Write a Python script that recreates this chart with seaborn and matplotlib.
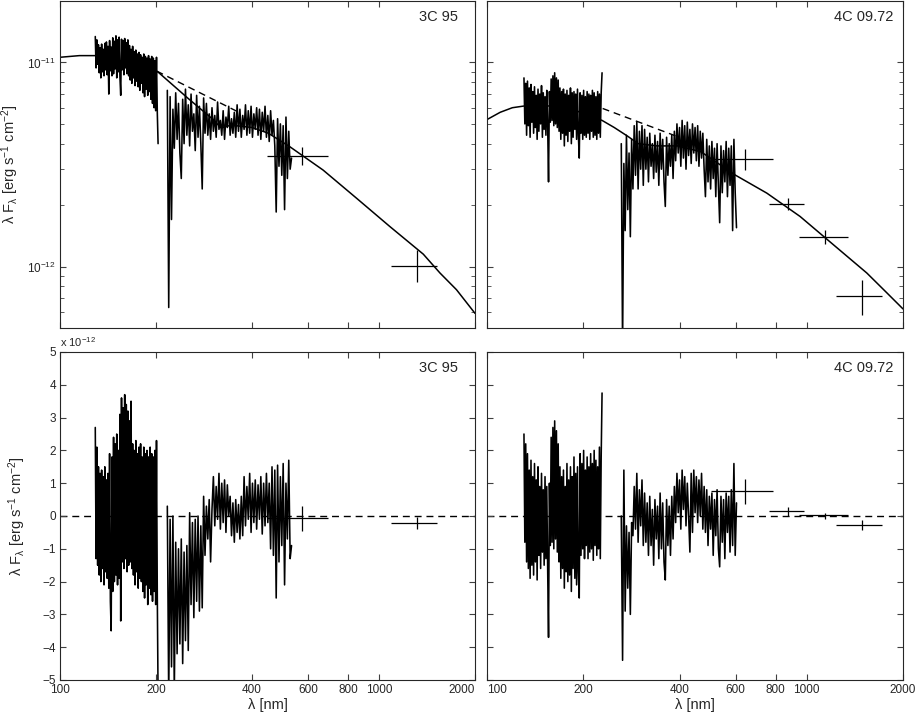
import numpy as np
import pandas as pd
import matplotlib
matplotlib.use("Agg")
import matplotlib.pyplot as plt
import seaborn as sns
from matplotlib.ticker import FixedLocator, NullLocator, NullFormatter, LogLocator, FixedFormatter

# ---------------- data (flux in units of 1e-12 erg s^-1 cm^-2) ----------------
# 3C 95 : UV spectrum 129-203 nm, optical spectrum 217-532 nm
uv_range_3c95 = (129, 203)
uv_3c95 = [
    13.4, 9.4, 12.9, 9.8, 12.2, 8.9, 11.8, 8.4, 12.3, 9.0,
    11.6, 8.6, 12.4, 9.2, 12.6, 8.7, 12.0, 7.0, 12.8, 9.1,
    11.9, 8.6, 13.2, 8.8, 12.7, 9.3, 13.5, 8.4, 12.9, 9.0,
    13.3, 8.5, 6.9, 13.0, 9.2, 12.8, 8.7, 13.1, 9.4, 12.5,
    8.8, 12.9, 8.6, 12.1, 8.2, 11.6, 7.9, 12.0, 8.4, 11.3,
    7.7, 11.5, 8.1, 11.0, 7.6, 11.2, 7.3, 10.9, 7.9, 10.6,
    7.1, 11.0, 6.8, 10.7, 7.4, 10.5, 6.9, 10.8, 7.2, 10.4,
    6.6, 10.7, 6.3, 10.5, 6.0, 10.2, 5.8, 10.6, 5.7, 4.0]
opt_range_3c95 = (217, 532)
opt_3c95 = [
    7.3, 0.63, 6.8, 1.7, 5.9, 3.8, 7.1, 4.2, 6.3, 3.6,
    2.7, 6.6, 4.0, 7.4, 4.4, 6.2, 3.9, 7.0, 4.6, 5.6,
    3.7, 6.9, 4.3, 6.1, 4.0, 2.4, 6.7, 4.5, 6.3, 4.4,
    5.6, 4.2, 6.0, 4.6, 5.5, 4.3, 6.4, 4.7, 5.2, 4.4,
    5.8, 4.2, 5.4, 4.8, 6.1, 4.4, 5.3, 4.5, 5.7, 4.3,
    6.2, 4.6, 5.9, 4.3, 5.5, 4.7, 6.2, 4.4, 5.8, 4.5,
    6.1, 4.3, 5.6, 4.7, 6.0, 4.4, 5.9, 4.2, 5.7, 4.6,
    6.1, 4.3, 5.5, 4.1, 5.8, 4.4, 5.2, 3.9, 1.85, 5.3,
    3.1, 5.0, 2.8, 4.9, 1.9, 5.4, 2.7, 4.6, 3.0, 3.4]
res_uv_3c95 = [
    2.7, -1.3, 2.1, -1.5, 1.5, -1.8, 1.3, -2.0, 1.4, -1.6,
    1.2, -2.1, 1.5, -1.7, 1.1, -1.9, 1.3, -2.2, 1.9, -2.6,
    -3.5, 1.8, -2.3, 2.4, -2.0, 2.2, -1.8, 2.5, -2.1, 2.0,
    -1.9, 3.1, -3.2, 3.6, -1.4, 3.3, -1.6, 3.7, -1.3, 3.4,
    -1.7, 3.2, -1.5, 2.9, -1.4, 3.5, -1.6, 2.2, -1.8, 2.0,
    -2.1, 2.3, -1.7, 1.9, -2.2, 2.1, -1.9, 2.2, -2.0, 1.8,
    -2.3, 2.1, -2.5, 1.9, -2.1, 2.0, -2.7, 1.8, -2.2, 2.1,
    -2.4, 1.9, -2.6, 1.8, -2.3, 2.0, -2.7, 2.3, -2.4, -5.5]
res_opt_3c95 = [
    0.3, -5.6, -0.1, -4.6, 0.0, -5.4, -0.8, -4.2, -1.0, -3.9,
    -0.7, -4.5, -1.1, -3.8, -0.9, -4.1, 0.1, -2.7, -0.2, -3.1,
    -0.1, -2.6, 0.0, -2.9, -0.3, -2.8, 0.6, -1.2, 0.3, -0.7,
    0.5, -1.4, 0.2, 1.2, -0.3, 0.9, -0.1, 1.3, -0.4, 1.0,
    -0.2, 1.1, -0.5, 0.95, 0.0, 0.6, -0.6, 0.4, -0.8, 0.5,
    -0.5, 0.35, -0.7, 0.6, -0.6, 1.2, -0.3, 0.9, -0.1, 1.3,
    -0.5, 1.0, -0.2, 1.1, -0.4, 0.95, -0.1, 1.2, -0.55, 1.0,
    -0.3, 1.3, -0.2, 1.0, -1.0, 1.5, -1.2, 1.4, -2.5, 1.55,
    -1.4, 1.2, -0.9, 1.6, -2.1, 1.0, -0.7, 1.7, -1.3, -0.9]
model_lam_3c95 = [100, 115, 130, 150, 170, 203, 252, 300, 320, 344, 400, 450,
                  526, 668, 851, 1082, 1377, 1553, 1750, 2000]
model_3c95 = [10.6, 10.8, 10.8, 10.3, 9.8, 8.97, 6.67, 5.3, 4.78, 4.93, 4.8, 4.5,
              3.86, 2.97, 2.16, 1.57, 1.15, 0.93, 0.77, 0.59]
dash_lam_3c95 = [201, 362]
dash_3c95 = [9.07, 5.72]
phot_lam_3c95 = [572, 1312]
phot_lo_3c95 = [444, 1093]
phot_hi_3c95 = [692, 1525]
phot_3c95 = [3.49, 1.01]
phot_flo_3c95 = [3.13, 0.84]
phot_fhi_3c95 = [3.86, 1.2]
pres_3c95 = [-0.05, -0.2]
pres_lo_3c95 = [-0.46, -0.4]
pres_hi_3c95 = [0.31, -0.02]

# 4C 09.72 : UV spectrum 130-229 nm, optical spectrum 263-603 nm
uv_range_4c = (130.5, 229)
uv_4c = [
    8.4, 5.0, 7.9, 4.4, 8.1, 4.9, 7.5, 4.3, 7.8, 5.1,
    7.2, 4.5, 7.6, 4.8, 6.9, 4.2, 7.4, 4.6, 7.0, 5.0,
    7.7, 4.3, 7.1, 4.7, 6.8, 4.4, 7.3, 4.9, 2.6, 7.2,
    5.1, 8.3, 5.2, 8.6, 4.9, 8.9, 5.0, 8.4, 4.8, 8.2,
    4.6, 7.5, 4.2, 7.2, 4.5, 7.4, 3.9, 7.0, 4.4, 7.3,
    4.1, 6.9, 4.6, 7.5, 4.0, 7.1, 4.3, 7.2, 4.7, 7.0,
    4.2, 7.4, 4.4, 3.4, 7.1, 4.5, 6.9, 4.2, 7.3, 4.4,
    6.8, 4.3, 7.2, 4.5, 7.0, 4.2, 6.9, 4.6, 7.3, 4.3,
    7.1, 4.4, 6.8, 4.2, 7.2, 4.5, 7.0, 4.3, 7.1, 8.9]
opt_range_4c = (263, 603)
opt_4c = [
    4.0, 0.4, 3.2, 1.5, 4.4, 1.9, 3.6, 1.4, 4.2, 2.4,
    4.9, 2.8, 5.1, 2.4, 4.6, 3.0, 4.9, 2.5, 4.7, 3.0,
    4.3, 2.6, 4.5, 3.1, 4.0, 2.7, 4.4, 2.9, 4.1, 2.5,
    4.5, 3.0, 4.2, 2.6, 1.97, 4.3, 2.8, 4.0, 3.1, 4.4,
    2.7, 4.6, 3.3, 5.0, 3.6, 4.8, 3.1, 5.2, 3.4, 4.9,
    3.0, 5.1, 3.5, 4.7, 3.2, 5.0, 3.6, 4.8, 3.3, 4.9,
    3.1, 4.6, 3.4, 4.5, 3.0, 2.2, 4.2, 2.6, 3.9, 2.4,
    4.1, 2.7, 3.8, 2.2, 4.0, 2.5, 1.64, 3.9, 2.3, 3.7,
    2.6, 4.1, 2.2, 3.8, 2.5, 3.9, 1.5, 4.2, 2.3, 1.55]
res_uv_4c = [
    2.5, -0.8, 2.2, -1.4, 1.9, -1.6, 1.4, -1.9, 1.7, -1.5,
    1.2, -1.8, 1.6, -1.4, 1.1, -1.95, 1.5, -1.2, 0.9, -1.6,
    1.3, -1.1, 0.8, -1.5, 1.2, -1.3, 0.9, -1.6, -3.7, 1.0,
    -0.9, 2.4, -0.8, 2.7, -1.0, 2.9, -0.7, 2.6, -1.1, 2.2,
    -1.4, 1.5, -1.9, 1.2, -1.6, 1.4, -2.2, 0.9, -1.7, 1.6,
    -2.0, 1.1, -1.8, 1.5, -2.3, 1.2, -1.6, 1.8, -1.9, 1.3,
    -2.1, 1.5, -1.7, -2.5, 1.9, -1.2, 1.6, -1.0, 2.0, -1.3,
    1.4, -0.9, 1.8, -1.3, 1.5, -1.1, 1.9, -1.0, 1.6, -1.35,
    2.0, -0.9, 1.7, -1.2, 1.5, -1.0, 2.1, -1.3, 1.8, 3.75]
res_opt_4c = [
    0.0, -4.4, 1.4, -2.9, -0.3, -2.2, -0.5, -3.0, -0.2, -0.6,
    0.9, -0.4, 1.3, -0.8, 0.8, -0.3, 1.1, -0.9, 0.7, -0.8,
    0.4, -1.2, 0.6, -0.9, 0.2, -1.5, 0.5, -0.7, 0.3, -1.3,
    0.7, -1.0, 0.4, -1.4, -1.95, 0.5, -0.9, 0.3, -1.2, 0.6,
    -0.7, 0.9, -0.2, 1.3, 0.1, 1.1, -0.4, 1.4, 0.2, 1.2,
    -0.3, 1.0, 0.0, -1.1, 1.3, -0.5, 1.4, 0.1, 1.2, -0.2,
    1.1, 0.0, 1.3, -0.4, 0.9, -0.5, 0.8, -0.9, 0.6, -0.4,
    0.7, -1.2, 0.5, -0.6, 0.8, -1.0, -1.55, 0.6, -0.8, 0.5,
    -1.3, 0.7, -0.5, 0.6, -1.1, 0.8, -0.9, 1.6, -1.2, 0.4]
model_lam_4c = [100, 110, 120, 129, 140, 160, 190, 229, 250, 276, 297, 340, 395,
                467, 597, 750, 953, 1211, 1541, 1778, 2000]
model_4c = [5.25, 5.7, 6.0, 6.1, 6.2, 6.1, 5.8, 5.2, 4.8, 4.34, 4.0, 3.9, 3.9,
            3.65, 2.81, 2.29, 1.76, 1.28, 0.93, 0.745, 0.62]
dash_lam_4c = [230, 390]
dash_4c = [5.95, 4.36]
phot_lam_4c = [643, 873, 1144, 1486]
phot_lo_4c = [502, 760, 944, 1233]
phot_hi_4c = [784, 983, 1347, 1720]
phot_4c = [3.36, 2.02, 1.40, 0.72]
phot_flo_4c = [2.97, 1.89, 1.29, 0.58]
phot_fhi_4c = [3.77, 2.16, 1.51, 0.86]
pres_4c = [0.76, 0.14, 0.02, -0.27]
pres_lo_4c = [0.36, 0.0, -0.1, -0.42]
pres_hi_4c = [1.13, 0.27, 0.1, -0.13]

xticks = [100, 200, 400, 600, 800, 1000, 2000]
xticklabels = ["100", "200", "400", "600", "800", "1000", "2000"]
ylabel = "λ F$_{λ}$ [erg s$^{-1}$ cm$^{-2}$]"

# ---------------- style ----------------
sns.set_style("ticks")
plt.rcParams["font.family"] = ["Liberation Sans", "DejaVu Sans"]
plt.rcParams["mathtext.fontset"] = "custom"
plt.rcParams["mathtext.rm"] = "Liberation Sans"
plt.rcParams["mathtext.it"] = "Liberation Sans:italic"
plt.rcParams["mathtext.default"] = "regular"
plt.rcParams["axes.linewidth"] = 0.8
plt.rcParams["axes.edgecolor"] = "0.15"

fig = plt.figure(figsize=(9.16, 7.16), dpi=100)
L, R = [60 / 916, 415 / 916], [487 / 916, 416 / 916]
top_b, top_h = 1 - 328 / 716, 327 / 716
bot_b, bot_h = 1 - 680 / 716, 328 / 716
ax_tl = fig.add_axes([L[0], top_b, L[1], top_h])
ax_tr = fig.add_axes([R[0], top_b, R[1], top_h])
ax_bl = fig.add_axes([L[0], bot_b, L[1], bot_h])
ax_br = fig.add_axes([R[0], bot_b, R[1], bot_h])

LW = 1.15


def spectrum(ax, rng, vals, scale):
    lam = np.geomspace(rng[0], rng[1], len(vals))
    df = pd.DataFrame({"lam": lam, "f": np.array(vals) * scale})
    sns.lineplot(data=df, x="lam", y="f", ax=ax, color="black", lw=LW,
                 estimator=None, sort=False)


def photometry(ax, lam, val, lo, hi, flo, fhi, scale):
    lam = np.array(lam, float)
    val = np.array(val) * scale
    xerr = [lam - np.array(lo), np.array(hi) - lam]
    yerr = [val - np.array(flo) * scale, np.array(fhi) * scale - val]
    ax.errorbar(lam, val, xerr=xerr, yerr=yerr, fmt="none", ecolor="black",
                elinewidth=0.9, capsize=0)


def style(ax, top, left, name):
    ax.set_xscale("log")
    ax.set_xlim(100, 2000)
    ax.xaxis.set_major_locator(FixedLocator(xticks))
    ax.xaxis.set_minor_locator(NullLocator())
    if top:
        ax.xaxis.set_major_formatter(NullFormatter())
        ax.set_xlabel("")
    else:
        ax.xaxis.set_major_formatter(FixedFormatter(xticklabels))
        ax.set_xlabel("λ [nm]", fontsize=10.5, labelpad=1)
    ax.tick_params(which="both", direction="in", top=True, right=True,
                   labelsize=8.5, color="0.25", pad=3)
    ax.tick_params(which="major", length=4)
    ax.tick_params(which="minor", length=3)
    if left:
        ax.set_ylabel(ylabel, fontsize=10.5)
    else:
        ax.set_ylabel("")
        ax.yaxis.set_major_formatter(NullFormatter())
        ax.yaxis.set_minor_formatter(NullFormatter())
    for s in ax.spines.values():
        s.set_visible(True)
    ax.text(0.96 if left else 0.976, 0.95, name, transform=ax.transAxes,
            ha="right", va="center", fontsize=10.5)


# ---------------- top panels (SED, log-log) ----------------
E = 1e-12
for ax, uvr, uv, opr, op, ml, m, dl, d, ph in [
    (ax_tl, uv_range_3c95, uv_3c95, opt_range_3c95, opt_3c95, model_lam_3c95, model_3c95,
     dash_lam_3c95, dash_3c95,
     (phot_lam_3c95, phot_3c95, phot_lo_3c95, phot_hi_3c95, phot_flo_3c95, phot_fhi_3c95)),
    (ax_tr, uv_range_4c, uv_4c, opt_range_4c, opt_4c, model_lam_4c, model_4c,
     dash_lam_4c, dash_4c,
     (phot_lam_4c, phot_4c, phot_lo_4c, phot_hi_4c, phot_flo_4c, phot_fhi_4c)),
]:
    ax.set_xscale("log")
    ax.set_yscale("log")
    spectrum(ax, uvr, uv, E)
    spectrum(ax, opr, op, E)
    sns.lineplot(x=np.array(ml), y=np.array(m) * E, ax=ax, color="black", lw=1.1,
                 estimator=None, sort=False)
    sns.lineplot(x=np.array(dl), y=np.array(d) * E, ax=ax, color="black", lw=1.0,
                 estimator=None, sort=False, linestyle=(0, (5, 3.5)))
    photometry(ax, ph[0], ph[1], ph[2], ph[3], ph[4], ph[5], E)
    ax.set_ylim(5e-13, 2e-11)
    ax.yaxis.set_major_locator(LogLocator(base=10, numticks=10))
    ax.yaxis.set_minor_locator(LogLocator(base=10, subs=np.arange(2, 10), numticks=10))
    ax.yaxis.set_minor_formatter(NullFormatter())

style(ax_tl, True, True, "3C 95")
style(ax_tr, True, False, "4C 09.72")
ax_tl.yaxis.set_label_coords(-0.095, 0.5)

# ---------------- bottom panels (residuals, linear) ----------------
for ax, uvr, uv, opr, op, ph in [
    (ax_bl, uv_range_3c95, res_uv_3c95, opt_range_3c95, res_opt_3c95,
     (phot_lam_3c95, pres_3c95, phot_lo_3c95, phot_hi_3c95, pres_lo_3c95, pres_hi_3c95)),
    (ax_br, uv_range_4c, res_uv_4c, opt_range_4c, res_opt_4c,
     (phot_lam_4c, pres_4c, phot_lo_4c, phot_hi_4c, pres_lo_4c, pres_hi_4c)),
]:
    ax.set_xscale("log")
    ax.axhline(0, color="black", lw=1.0, linestyle=(0, (5, 3.5)), zorder=0)
    spectrum(ax, uvr, uv, 1.0)
    spectrum(ax, opr, op, 1.0)
    photometry(ax, ph[0], ph[1], ph[2], ph[3], ph[4], ph[5], 1.0)
    ax.set_ylim(-5, 5)
    ax.yaxis.set_major_locator(FixedLocator(range(-5, 6)))

style(ax_bl, False, True, "3C 95")
style(ax_br, False, False, "4C 09.72")
ax_bl.yaxis.set_label_coords(-0.076, 0.5)
ax_bl.text(0.0, 1.008, "x 10$^{-12}$", transform=ax_bl.transAxes,
           ha="left", va="bottom", fontsize=8)

# keep the edge labels of the two bottom panels apart
ax_bl.get_xticklabels()[-1].set_ha("right")
ax_br.get_xticklabels()[0].set_ha("left")

fig.savefig("out.png", dpi=100)
